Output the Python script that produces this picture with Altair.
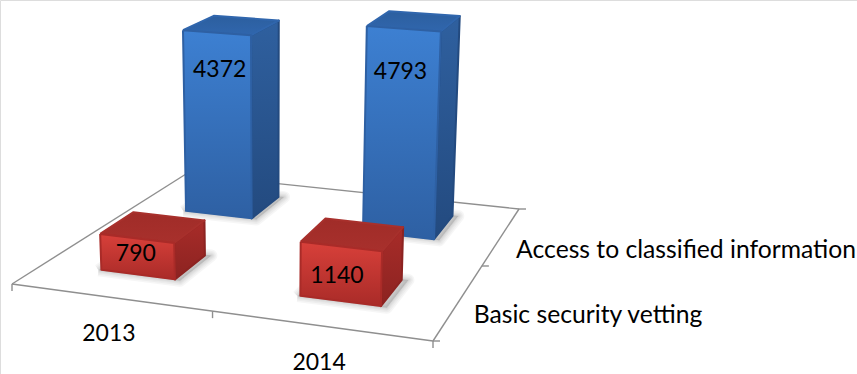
import altair as alt
import numpy as np

# Chart values
years = ["2013", "2014"]
series = ["Basic security vetting", "Access to classified information"]
basic_vetting = [790, 1140]
classified_access = [4372, 4793]

# Floor of the 3D scene, as screen points of its four corners
FL, FR, BR, BL = (12, 284), (433, 341), (519, 209), (186, 174)
GRID = 2.0
BAR_HALF_U = 0.19
BAR_HALF_V = [0.18, 0.21]
ROW_CENTRE = [0.47, 1.5]
FLOOR_LIFT = 2
VANISH_X, VANISH_DEPTH = 270, 5000
LINE_GREY = "#8f8f8f"


def perspective_matrix():
    rows, rhs = [], []
    for (a, b), (x, y) in zip([(0, 0), (1, 0), (1, 1), (0, 1)], [FL, FR, BR, BL]):
        rows.append([a, b, 1, 0, 0, 0, -a * x, -b * x])
        rhs.append(x)
        rows.append([0, 0, 0, a, b, 1, -a * y, -b * y])
        rhs.append(y)
    return np.append(np.linalg.solve(np.array(rows, float), np.array(rhs, float)), 1.0).reshape(3, 3)


H = perspective_matrix()


def floor(u, v):
    p = H @ np.array([u / GRID, v / GRID, 1.0])
    return float(p[0] / p[2]), float(p[1] / p[2])


def raised(u, v, value):
    x, y = floor(u, v)
    y -= FLOOR_LIFT
    height = value * (0.0417 + (y - 216) * 0.00007)
    return x + (x - VANISH_X) * height / VANISH_DEPTH, y - height


def polygon(name, points):
    closed = points + points[:1]
    return [{"shape": name, "k": i, "x": p[0], "y": p[1]} for i, p in enumerate(closed)]


def bar_faces(name, i, j, value):
    u0, u1 = i + 0.5 - BAR_HALF_U, i + 0.5 + BAR_HALF_U
    v0, v1 = ROW_CENTRE[j] - BAR_HALF_V[j], ROW_CENTRE[j] + BAR_HALF_V[j]
    b = {"fl": raised(u0, v0, 0), "fr": raised(u1, v0, 0), "br": raised(u1, v1, 0)}
    t = {"fl": raised(u0, v0, value), "fr": raised(u1, v0, value),
         "br": raised(u1, v1, value), "bl": raised(u0, v1, value)}
    return {
        "side": polygon(name, [t["fr"], t["br"], b["br"], b["fr"]]),
        "top": polygon(name, [t["fl"], t["fr"], t["br"], t["bl"]]),
        "front": polygon(name, [t["fl"], t["fr"], b["fr"], b["fl"]]),
    }


def shadow_shape(name, i, j):
    mu, mv = BAR_HALF_U + 0.01, BAR_HALF_V[j] + 0.01
    cu, cv = i + 0.5, ROW_CENTRE[j]
    pts = [floor(cu - mu, cv - mv), floor(cu + mu + 0.02, cv - mv),
           floor(cu + mu + 0.02, cv + mv), floor(cu - mu, cv + mv)]
    return polygon(name, [(x, y - 2) for x, y in pts])


SX = alt.Scale(domain=[0, 857], range=[0, 857], nice=False, zero=False)
SY = alt.Scale(domain=[0, 374], range=[0, 374], nice=False, zero=False)
X = alt.X("x:Q", scale=SX, axis=None)
Y = alt.Y("y:Q", scale=SY, axis=None)


def shapes(rows, **mark):
    return alt.Chart(alt.Data(values=rows)).mark_line(**mark).encode(
        x=X, y=Y, detail="shape:N", order="k:Q"
    )


def grad(top, bottom):
    return alt.Gradient(
        gradient="linear", x1=0, x2=0, y1=0, y2=1,
        stops=[alt.GradientStop(color=top, offset=0), alt.GradientStop(color=bottom, offset=1)],
    )


# Floor outline and its tick marks
edge_rows = []
for n, (a, b) in enumerate([(FL, FR), (FR, BR), (BR, BL), (BL, FL)]):
    edge_rows += [{"shape": f"e{n}", "k": 0, "x": a[0], "y": a[1]},
                  {"shape": f"e{n}", "k": 1, "x": b[0], "y": b[1]}]
for n in range(3):
    x, y = floor(n, 0)
    edge_rows += [{"shape": f"f{n}", "k": 0, "x": x, "y": y},
                  {"shape": f"f{n}", "k": 1, "x": x, "y": y + 7}]
    x, y = floor(GRID, n)
    edge_rows += [{"shape": f"s{n}", "k": 0, "x": x, "y": y},
                  {"shape": f"s{n}", "k": 1, "x": x + 7, "y": y}]
layers = [shapes(edge_rows, stroke=LINE_GREY, strokeWidth=1.4)]

# Soft contact shadows on the floor
shadow_rows = []
for j in range(2):
    for i in range(2):
        shadow_rows += shadow_shape(f"sh{i}{j}", i, j)
for width in [12, 9, 6, 4, 2]:
    layers.append(shapes(shadow_rows, fill="#808080", fillOpacity=0.07, stroke="#808080",
                         strokeOpacity=0.07, strokeWidth=width, strokeJoin="round"))

# Bars, rear series first
palette = [
    # Basic security vetting
    {"front": ("#d8403a", "#a92b28"), "side": ("#a82c29", "#8c2321"), "top": ("#a02c28", "#a8302c")},
    # Access to classified information
    {"front": ("#3d80d2", "#2e60a3"), "side": ("#2f609f", "#234a7f"), "top": ("#2c5f9f", "#3066ad")},
]
for j, values in reversed(list(enumerate([basic_vetting, classified_access]))):
    faces = [bar_faces(f"b{i}{j}", i, j, v) for i, v in enumerate(values)]
    for i, bar in enumerate(faces):
        for face in ["side", "top", "front"]:
            top, bottom = palette[j][face]
            layers.append(shapes(bar[face], fill=grad(top, bottom), stroke=bottom,
                                 strokeWidth=2, strokeJoin="round"))

# Value labels, placed relative to the top front edge of each bar
LABEL_DROP = [[16, 29], [37, 43]]
LABEL_SHIFT = [[-1, -4], [3, -3]]
label_rows = []
for j, values in enumerate([basic_vetting, classified_access]):
    for i, v in enumerate(values):
        x, y = raised(i + 0.5, ROW_CENTRE[j] - BAR_HALF_V[j], v)
        label_rows.append({"x": x + LABEL_SHIFT[j][i], "y": y + LABEL_DROP[j][i], "label": str(v)})

FONT = "Lato"
layers.append(
    alt.Chart(alt.Data(values=label_rows))
    .mark_text(font=FONT, fontSize=23, color="black", align="center", baseline="middle")
    .encode(x=X, y=Y, text="label:N")
)

# Category labels below the front edge, series labels beside the right edge
cat_rows = []
for i, year in enumerate(years):
    x, y = floor(i + 0.5, 0)
    cat_rows.append({"x": x - 1, "y": y + 37, "label": year})
layers.append(
    alt.Chart(alt.Data(values=cat_rows))
    .mark_text(font=FONT, fontSize=23, color="black", align="center", baseline="middle")
    .encode(x=X, y=Y, text="label:N")
)
ser_rows = []
for j, name in enumerate(series):
    x, y = floor(GRID, j + 0.5)
    ser_rows.append({"x": x + 14.5, "y": y + 15, "label": name})
layers.append(
    alt.Chart(alt.Data(values=ser_rows))
    .mark_text(font=FONT, fontSize=24.7, color="black", align="left", baseline="middle")
    .encode(x=X, y=Y, text="label:N")
)

chart = (
    alt.layer(*layers)
    .properties(width=857, height=374, padding=0, autosize=alt.AutoSizeParams(type="none"))
    .configure_view(stroke=None)
    .configure(background="white")
)
chart.save("out.html", embed_options={"renderer": "svg", "actions": False})
